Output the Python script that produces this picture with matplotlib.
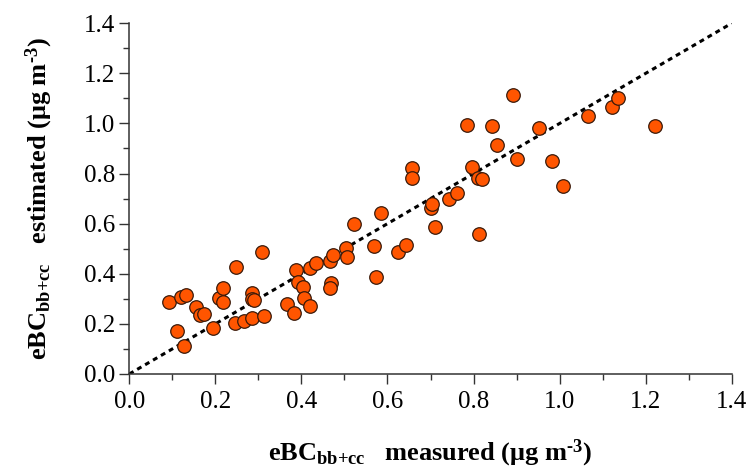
import matplotlib
matplotlib.use('Agg')

import numpy as np
import matplotlib.pyplot as plt

plt.rcParams['font.family'] = 'Liberation Serif'
plt.rcParams['mathtext.fontset'] = 'custom'
plt.rcParams['mathtext.rm'] = 'Liberation Serif'
plt.rcParams['mathtext.bf'] = 'Liberation Serif:bold'
plt.rcParams['mathtext.it'] = 'Liberation Serif:italic'

# measured vs estimated eBC (ug m-3)
measured = [0.093, 0.110, 0.120, 0.132, 0.128, 0.156, 0.164, 0.173, 0.194, 0.209,
            0.217, 0.218, 0.246, 0.249, 0.266, 0.286, 0.286, 0.290, 0.286, 0.308,
            0.313, 0.366, 0.383, 0.387, 0.393, 0.404, 0.406, 0.420, 0.421, 0.434,
            0.466, 0.474, 0.469, 0.466, 0.503, 0.505, 0.522, 0.569, 0.573, 0.584,
            0.624, 0.642, 0.658, 0.658, 0.701, 0.703, 0.710, 0.744, 0.761, 0.784,
            0.796, 0.811, 0.819, 0.812, 0.842, 0.854, 0.892, 0.900, 0.953, 0.982,
            1.007, 1.067, 1.122, 1.135, 1.222]
estimated = [0.289, 0.172, 0.309, 0.315, 0.112, 0.269, 0.236, 0.238, 0.185, 0.305,
             0.342, 0.289, 0.205, 0.428, 0.212, 0.325, 0.299, 0.295, 0.225, 0.486,
             0.232, 0.278, 0.242, 0.415, 0.369, 0.346, 0.302, 0.271, 0.424, 0.442,
             0.452, 0.475, 0.362, 0.345, 0.502, 0.466, 0.597, 0.512, 0.386, 0.644,
             0.486, 0.515, 0.821, 0.784, 0.661, 0.679, 0.588, 0.697, 0.724, 0.994,
             0.828, 0.781, 0.777, 0.558, 0.990, 0.914, 1.114, 0.858, 0.981, 0.852,
             0.750, 1.030, 1.067, 1.103, 0.990]

one_to_one = [0.0, 1.4]
ticks = [0.0, 0.2, 0.4, 0.6, 0.8, 1.0, 1.2, 1.4]

fig = plt.figure(figsize=(7.49, 4.74), dpi=100)
ax = fig.add_axes([0.1726, 0.211, 0.8044, 0.740])

ax.plot(one_to_one, one_to_one, color='black', lw=2.2, dashes=(1.6, 1.4), zorder=1)
ax.scatter(measured, estimated, s=95, c='#ff5500', edgecolors='#3a1a0a',
           linewidths=0.9, zorder=2)

ax.set_xlim(0, 1.4)
ax.set_ylim(0, 1.4)
ax.set_xticks(ticks)
ax.set_yticks(ticks)
ax.set_xticks(np.arange(0.1, 1.4, 0.2), minor=True)
ax.set_yticks(np.arange(0.1, 1.4, 0.2), minor=True)
ax.set_xticklabels(['%.1f' % t for t in ticks])
ax.set_yticklabels(['%.1f' % t for t in ticks])
ax.tick_params(which='major', direction='out', length=7, width=1, labelsize=18, color='#333333')
ax.tick_params(which='minor', direction='out', length=4, width=1, color='#333333')
ax.tick_params(axis='x', pad=5)
ax.tick_params(axis='y', pad=3)

for side in ['top', 'right']:
    ax.spines[side].set_visible(False)
for side in ['left', 'bottom']:
    ax.spines[side].set_color('#333333')
    ax.spines[side].set_linewidth(1.1)
ax.spines['left'].set_bounds(0, 1.4)
ax.spines['bottom'].set_bounds(0, 1.4)

ax.set_xlabel('eBC$_{\\mathbf{bb{+}cc}}$   measured (μg m$^{\\mathbf{\u20103}}$)',
              fontsize=19, fontweight='bold', labelpad=18)
ax.set_ylabel('eBC$_{\\mathbf{bb{+}cc}}$   estimated (μg m$^{\\mathbf{\u20103}}$)',
              fontsize=19, fontweight='bold', labelpad=21)

fig.savefig('out.png', dpi=100)
